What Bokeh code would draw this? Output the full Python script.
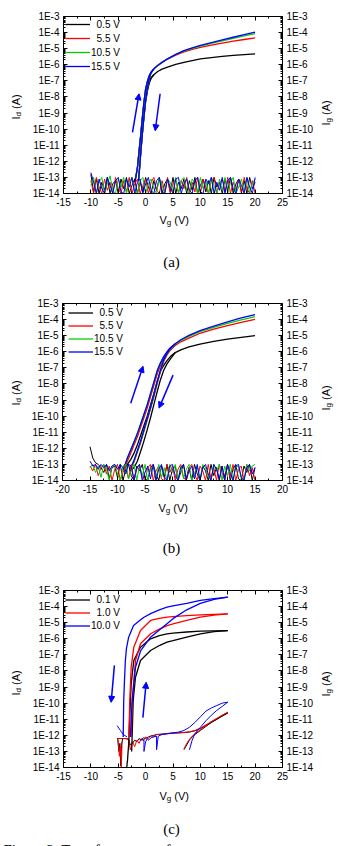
import math
from bokeh.plotting import figure
from bokeh.models import (Range1d, FixedTicker, CustomJSTickFormatter, LinearAxis, LogAxis,
                          Legend, LegendItem, Label, Arrow, NormalHead)
from bokeh.layouts import column
from bokeh.embed import file_html
from bokeh.resources import INLINE

SANS = "Liberation Sans"
SERIF = "Liberation Serif"
BLACK, RED, GREEN, BLUE = "#000000", "#ff0000", "#00d000", "#0000ff"
NB = "\u00a0"

# ---------------- DATA (currents given as log10(A)) ----------------
# Panel (a)
legend_a = ["\u20070.5 V", "\u20075.5 V", "10.5 V", "15.5 V"]
Vg_a_fwd = [-2.0, -1.8, -1.5, -1.2, -0.9, -0.6, -0.3, 0.0, 0.35, 0.7, 1.0, 1.5, 2.2, 3.0, 4.0, 5.5, 7.0, 8.5, 10.0, 12.0, 14.0, 16.0, 18.0, 20.0]
Id_a_05_fwd = [-13.3, -13.0, -12.4, -11.4, -10.4, -9.35, -8.4, -7.7, -7.25, -6.98, -6.8, -6.62, -6.42, -6.27, -6.15, -5.98, -5.85, -5.74, -5.64, -5.55, -5.48, -5.42, -5.37, -5.32]
Id_a_55_fwd = [-13.3, -13.0, -12.4, -11.4, -10.4, -9.3, -8.3, -7.5, -7.0, -6.65, -6.46, -6.25, -6.05, -5.85, -5.65, -5.4, -5.2, -5.05, -4.92, -4.78, -4.65, -4.53, -4.43, -4.33]
Id_a_105_fwd = [-13.3, -13.0, -12.4, -11.4, -10.4, -9.3, -8.3, -7.5, -7.0, -6.65, -6.46, -6.25, -6.05, -5.85, -5.63, -5.36, -5.14, -4.98, -4.84, -4.67, -4.51, -4.36, -4.21, -4.07]
Id_a_155_fwd = [-13.3, -13.0, -12.4, -11.4, -10.4, -9.3, -8.3, -7.5, -7.0, -6.65, -6.46, -6.25, -6.05, -5.85, -5.63, -5.35, -5.12, -4.95, -4.8, -4.62, -4.45, -4.29, -4.13, -3.97]
Vg_a_rev = [1.5, 1.0, 0.7, 0.35, 0.0, -0.3, -0.6, -0.9, -1.1, -1.3]
Id_a_05_rev = [-6.62, -6.85, -7.1, -7.6, -8.3, -9.25, -10.3, -11.5, -12.4, -13.2]
Id_a_55_rev = [-6.25, -6.5, -6.8, -7.4, -8.2, -9.2, -10.3, -11.5, -12.4, -13.2]
Id_a_105_rev = [-6.25, -6.5, -6.8, -7.4, -8.2, -9.2, -10.3, -11.5, -12.4, -13.2]
Id_a_155_rev = [-6.25, -6.5, -6.8, -7.4, -8.2, -9.2, -10.3, -11.5, -12.4, -13.2]
Vg_a_noise = [-10.0, -9.5, -9.0, -8.5, -8.0, -7.5, -7.0, -6.5, -6.0, -5.5,
              -5.0, -4.5, -4.0, -3.5, -3.0, -2.5, -2.0, -1.5, -1.0, -0.5,
              0.0, 0.5, 1.0, 1.5, 2.0, 2.5, 3.0, 3.5, 4.0, 4.5,
              5.0, 5.5, 6.0, 6.5, 7.0, 7.5, 8.0, 8.5, 9.0, 9.5,
              10.0, 10.5, 11.0, 11.5, 12.0, 12.5, 13.0, 13.5, 14.0, 14.5,
              15.0, 15.5, 16.0, 16.5, 17.0, 17.5, 18.0, 18.5, 19.0, 19.5,
              20.0]
Ig_a_05 = [-12.8, -13.9, -13.1, -14.0, -13.3, -13.8, -13.0, -14.0, -13.4, -13.2,
           -14.0, -13.1, -13.7, -13.0, -14.0, -13.5, -13.1, -14.0, -13.3, -13.9,
           -13.0, -13.6, -14.0, -13.2, -13.8, -13.0, -14.0, -13.4, -13.1, -13.9,
           -13.0, -14.0, -13.3, -13.7, -13.1, -14.0, -13.2, -13.8, -13.0, -14.0,
           -13.5, -13.1, -13.9, -13.2, -14.0, -13.0, -13.6, -13.3, -14.0, -13.1,
           -13.8, -13.0, -14.0, -13.4, -13.1, -13.9, -13.2, -14.0, -13.0, -13.7,
           -13.3]
Ig_a_55 = [-13.2, -14.0, -13.0, -13.6, -14.0, -13.1, -13.8, -13.3, -14.0, -13.0,
           -13.7, -14.0, -13.2, -13.9, -13.0, -14.0, -13.4, -13.1, -14.0, -13.5,
           -13.1, -14.0, -13.3, -13.0, -13.8, -14.0, -13.2, -13.9, -13.0, -14.0,
           -13.4, -13.1, -14.0, -13.2, -13.7, -13.0, -14.0, -13.3, -13.9, -13.0,
           -14.0, -13.1, -13.6, -14.0, -13.2, -13.0, -14.0, -13.4, -13.1, -13.9,
           -13.0, -14.0, -13.3, -13.8, -13.1, -14.0, -13.0, -13.7, -14.0, -13.2,
           -14.0]
Ig_a_105 = [-13.5, -13.0, -14.0, -13.3, -13.0, -14.0, -13.4, -12.9, -13.8, -14.0,
            -13.1, -13.6, -13.0, -14.0, -13.3, -13.0, -13.9, -14.0, -13.2, -13.0,
            -14.0, -13.4, -13.1, -13.7, -14.0, -13.0, -13.5, -14.0, -13.1, -13.3,
            -13.9, -13.0, -14.0, -13.2, -13.0, -13.8, -14.0, -13.1, -13.4, -14.0,
            -13.0, -13.7, -13.2, -14.0, -13.0, -13.5, -14.0, -13.1, -13.8, -13.0,
            -14.0, -13.3, -13.0, -14.0, -13.6, -13.1, -13.9, -13.0, -14.0, -13.4,
            -13.1]
Ig_a_155 = [-12.7, -13.3, -14.0, -13.1, -13.7, -14.0, -13.0, -13.5, -14.0, -13.2,
            -13.0, -13.9, -14.0, -13.1, -13.6, -13.0, -14.0, -13.3, -13.1, -14.0,
            -13.4, -13.0, -13.8, -14.0, -13.2, -13.0, -13.9, -14.0, -13.1, -13.6,
            -14.0, -13.1, -13.0, -14.0, -13.4, -13.1, -13.8, -14.0, -13.2, -13.0,
            -13.9, -14.0, -13.1, -13.4, -13.0, -14.0, -13.3, -13.8, -13.0, -14.0,
            -13.2, -13.0, -13.7, -14.0, -13.1, -13.5, -14.0, -13.0, -13.6, -14.0,
            -13.0]

# Panel (b)
legend_b = ["\u20070.5 V", "\u20075.5 V", "10.5 V", "15.5 V"]
Vg_b_fwd = [-9.0, -8.6, -8.2, -7.6, -7.0, -6.4, -5.8, -5.2, -4.6, -4.0, -3.4, -2.8, -2.2, -1.6, -1.0, -0.4, 0.5, 1.5, 3.0, 5.0, 7.5, 10.0, 12.5, 15.0]
Id_b_05_fwd = [-13.3, -13.2, -13.0, -12.7, -12.3, -11.8, -11.2, -10.6, -10.0, -9.3, -8.6, -7.85, -7.2, -6.85, -6.55, -6.3, -6.05, -5.88, -5.7, -5.52, -5.35, -5.21, -5.1, -5.0]
Id_b_55_fwd = [-13.3, -13.1, -12.8, -12.3, -11.8, -11.3, -10.7, -10.1, -9.5, -8.8, -8.1, -7.4, -6.85, -6.42, -6.1, -5.85, -5.6, -5.38, -5.15, -4.85, -4.6, -4.37, -4.17, -3.98]
Id_b_105_fwd = [-13.2, -13.0, -12.6, -12.1, -11.6, -11.1, -10.5, -9.9, -9.3, -8.6, -7.9, -7.2, -6.7, -6.32, -6.02, -5.78, -5.53, -5.3, -5.04, -4.75, -4.48, -4.24, -4.02, -3.82]
Id_b_155_fwd = [-13.2, -13.0, -12.6, -12.1, -11.6, -11.1, -10.5, -9.9, -9.3, -8.6, -7.9, -7.2, -6.7, -6.3, -6.0, -5.75, -5.5, -5.25, -4.98, -4.68, -4.4, -4.14, -3.9, -3.69]
Vg_b_rev = [0.5, -0.4, -1.0, -1.6, -2.2, -2.8, -3.4, -4.0, -4.6, -5.2, -5.8, -6.4, -7.0, -7.4, -7.8]
Id_b_05_rev = [-6.05, -6.45, -6.75, -7.15, -7.75, -8.5, -9.3, -10.1, -10.85, -11.55, -12.2, -12.8, -13.2, -13.3, -13.4]
Id_b_55_rev = [-5.6, -5.9, -6.2, -6.6, -7.25, -8.0, -8.8, -9.55, -10.25, -10.95, -11.65, -12.25, -12.85, -13.1, -13.3]
Id_b_105_rev = [-5.53, -5.82, -6.12, -6.52, -7.18, -7.93, -8.73, -9.48, -10.18, -10.88, -11.58, -12.18, -12.78, -13.08, -13.3]
Id_b_155_rev = [-5.5, -5.8, -6.1, -6.5, -7.15, -7.9, -8.7, -9.45, -10.15, -10.85, -11.55, -12.15, -12.75, -13.05, -13.3]
Vg_b_noise = [-15.0, -14.5, -14.0, -13.5, -13.0, -12.5, -12.0, -11.5, -11.0, -10.5,
              -10.0, -9.5, -9.0, -8.5, -8.0, -7.5, -7.0, -6.5, -6.0, -5.5,
              -5.0, -4.5, -4.0, -3.5, -3.0, -2.5, -2.0, -1.5, -1.0, -0.5,
              0.0, 0.5, 1.0, 1.5, 2.0, 2.5, 3.0, 3.5, 4.0, 4.5,
              5.0, 5.5, 6.0, 6.5, 7.0, 7.5, 8.0, 8.5, 9.0, 9.5,
              10.0, 10.5, 11.0, 11.5, 12.0, 12.5, 13.0, 13.5, 14.0, 14.5,
              15.0]
Ig_b_05 = [-11.9, -12.6, -12.9, -13.0, -13.2, -13.5, -13.0, -13.9, -13.2, -13.1,
           -13.8, -13.0, -14.0, -13.3, -13.0, -13.7, -14.0, -13.1, -13.4, -13.0,
           -13.9, -14.0, -13.2, -13.0, -13.6, -14.0, -13.1, -13.8, -13.0, -14.0,
           -13.3, -13.1, -14.0, -13.5, -13.0, -13.9, -13.2, -14.0, -13.0, -13.6,
           -14.0, -13.1, -13.4, -14.0, -13.0, -13.7, -13.2, -14.0, -13.1, -13.8,
           -13.0, -14.0, -13.3, -13.0, -13.9, -14.0, -13.1, -13.5, -13.0, -14.0,
           -13.2]
Ig_b_55 = [-13.1, -13.4, -13.0, -13.7, -13.2, -13.0, -13.6, -13.1, -14.0, -13.3,
           -13.0, -14.0, -13.5, -13.1, -13.9, -13.0, -14.0, -13.3, -13.0, -13.8,
           -14.0, -13.2, -13.0, -14.0, -13.4, -13.1, -13.9, -14.0, -13.0, -13.5,
           -13.1, -14.0, -13.3, -13.0, -13.8, -14.0, -13.2, -13.0, -13.6, -14.0,
           -13.1, -13.4, -14.0, -13.0, -13.9, -13.2, -14.0, -13.0, -13.5, -14.0,
           -13.1, -13.8, -13.0, -14.0, -13.3, -13.1, -14.0, -13.0, -13.7, -13.2,
           -14.0]
Ig_b_105 = [-13.2, -13.0, -13.5, -13.1, -13.8, -13.0, -13.3, -14.0, -13.1, -13.0,
            -13.6, -14.0, -13.2, -13.0, -13.9, -13.4, -13.0, -14.0, -13.1, -13.7,
            -13.0, -14.0, -13.3, -13.1, -14.0, -13.0, -13.8, -13.2, -14.0, -13.0,
            -13.5, -13.0, -14.0, -13.1, -13.9, -13.3, -13.0, -14.0, -13.6, -13.1,
            -14.0, -13.0, -13.2, -13.8, -14.0, -13.0, -13.4, -13.0, -14.0, -13.1,
            -13.7, -13.0, -14.0, -13.2, -13.1, -13.9, -14.0, -13.0, -13.4, -13.1,
            -13.0]
Ig_b_155 = [-12.8, -13.1, -13.0, -13.3, -13.0, -13.2, -13.0, -13.4, -13.1, -13.0,
            -13.3, -13.0, -13.2, -13.6, -13.0, -13.1, -14.0, -13.2, -13.0, -14.0,
            -13.5, -13.1, -13.9, -13.0, -14.0, -13.3, -13.0, -13.8, -14.0, -13.1,
            -13.0, -13.7, -14.0, -13.2, -13.0, -14.0, -13.4, -13.1, -13.9, -13.0,
            -14.0, -13.2, -13.0, -13.6, -14.0, -13.0, -13.3, -13.9, -13.1, -14.0,
            -13.0, -13.5, -14.0, -13.1, -13.0, -13.8, -14.0, -13.2, -13.0, -13.6,
            -13.2]

# Panel (c)
legend_c = ["\u20070.1 V", "\u20071.0 V", "10.0 V"]
Vg_c_01_a = [15.0, 12.5, 10.0, 7.5, 5.0, 3.9, 2.5, 0.9, -0.94, -2.16, -2.64, -2.9, -3.07, -3.3, -3.45]
Id_c_01_a = [-5.49, -5.51, -5.53, -5.58, -5.65, -5.69, -5.8, -6.0, -6.52, -7.35, -8.8, -10.87, -12.4, -13.5, -14.0]
Vg_c_01_b = [15.0, 12.5, 10.0, 7.5, 5.0, 3.9, 2.5, 0.9, -0.94, -1.85, -2.27, -2.45, -2.55]
Id_c_01_b = [-5.49, -5.55, -5.69, -5.9, -6.12, -6.21, -6.42, -6.73, -7.35, -8.39, -9.84, -11.9, -13.0]
Vg_c_1_a = [15.0, 12.5, 10.0, 7.5, 5.0, 3.9, 2.5, 0.9, -0.94, -2.16, -2.64, -2.9, -3.07]
Id_c_1_a = [-4.45, -4.48, -4.52, -4.56, -4.62, -4.66, -4.73, -4.86, -5.49, -6.52, -7.77, -9.84, -12.1]
Vg_c_1_b = [15.0, 12.5, 10.0, 7.5, 5.0, 3.9, 2.5, 0.9, -0.94, -1.85, -2.45, -2.64]
Id_c_1_b = [-4.45, -4.53, -4.66, -4.85, -5.08, -5.18, -5.4, -5.69, -6.31, -7.35, -9.84, -12.1]
Vg_c_10_a = [15.0, 12.5, 10.0, 7.5, 5.0, 3.9, 2.5, 1.0, -0.3, -1.2, -2.2, -3.1, -3.5, -3.7, -3.85, -4.0, -4.1]
Id_c_10_a = [-3.41, -3.5, -3.62, -3.8, -3.96, -4.04, -4.2, -4.42, -4.66, -4.9, -5.18, -5.9, -6.6, -7.35, -8.5, -9.84, -12.1]
Vg_c_10_b = [15.0, 12.5, 10.0, 7.5, 5.0, 3.9, 2.5, 0.9, -0.9, -1.85, -2.45, -2.65, -2.76]
Id_c_10_b = [-3.41, -3.55, -3.8, -4.2, -4.75, -5.07, -5.45, -5.9, -6.73, -7.77, -9.84, -11.0, -12.1]
Vg_c_low = [-5.2, -4.5, -3.8, -3.1, -2.8, -2.4, -2.0, -1.6, -1.2, -0.8, -0.4, 0.0, 0.5, 1.0, 1.5,
            2.0, 3.0, 4.0, 5.0, 6.0, 7.0, 8.0, 9.0, 10.0, 11.0, 12.0, 13.0, 14.0, 15.0]
Ig_c_01_low = [-12.2, -12.2, -12.2, -12.25, -12.6, -12.5, -12.3, -12.4, -12.2, -12.3, -12.15, -12.2, -12.1, -12.05, -12.0,
               -11.95, -11.92, -11.9, -11.87, -11.85, -11.83, -11.8, -11.72, -11.58, -11.4, -11.2, -11.0, -10.8, -10.62]
Ig_c_1_low = [-12.2, -12.2, -12.2, -12.2, -12.9, -12.4, -12.7, -12.3, -12.5, -12.2, -12.35, -12.1, -12.2, -12.0, -12.1,
              -11.95, -11.95, -11.88, -11.85, -11.85, -11.82, -11.78, -11.7, -11.55, -11.35, -11.15, -10.95, -10.75, -10.58]
Vg_c_loop = [7.0, 7.5, 8.0, 8.5, 9.0, 10.0, 11.0, 12.0, 13.0, 14.0, 15.0]
Ig_c_01_loop = [-12.9, -12.6, -12.3, -12.1, -11.95, -11.7, -11.45, -11.2, -11.0, -10.8, -10.6]
Ig_c_1_loop = [-12.85, -12.5, -12.25, -12.05, -11.9, -11.65, -11.4, -11.15, -10.95, -10.75, -10.56]
Vg_c_10_low = [-1.0, -0.5, -0.3, -0.3, 0.0, 0.3, 0.5, 1.0, 1.5, 2.0, 2.0, 2.3, 3.0, 4.0, 5.0,
               6.0, 7.0, 8.0, 9.0, 10.0, 11.0, 12.0, 13.0, 14.0, 15.0]
Ig_c_10_low = [-12.3, -12.25, -12.3, -13.0, -12.4, -12.2, -12.3, -12.15, -12.1, -12.05, -12.9, -12.05, -11.95, -11.9, -11.85,
               -11.8, -11.7, -11.5, -11.2, -10.85, -10.5, -10.3, -10.15, -10.0, -9.94]
Vg_c_10_loop = [8.0, 8.5, 9.0, 10.0, 11.0, 12.0, 13.0, 14.0, 15.0]
Ig_c_10_loop = [-12.9, -12.3, -11.9, -11.5, -11.1, -10.75, -10.45, -10.2, -9.94]
Vg_c_10_diag = [-5.2, -4.6, -4.1, -3.4]
Ig_c_10_diag = [-11.4, -11.7, -11.95, -12.1]
Vg_c_01_spk = [-5.1, -4.9, -4.7, -4.55, -4.4, -4.2]
Ig_c_01_spk = [-12.2, -13.0, -12.5, -13.9, -12.6, -12.2]
Vg_c_1_spk = [-5.0, -4.8, -4.6, -4.45, -4.3]
Ig_c_1_spk = [-12.3, -13.3, -12.7, -14.0, -12.4]

# sweep-direction arrows: (x_start, log_y_start, x_end, log_y_end)
arrows_a = [(-2.4, -10.2, -1.2, -7.8), (2.65, -7.8, 1.75, -10.1)]
arrows_b = [(-7.6, -9.2, -5.35, -6.9), (0.1, -7.45, -2.45, -9.5)]
arrows_c = [(-5.7, -7.65, -6.3, -9.95), (-0.5, -10.9, 0.1, -8.7)]

caption_bottom = "Figure 2. Transfer curves of"

# ---------------- helpers ----------------
def E(v):
    return [10.0 ** x for x in v]

CW = {"I": 0.278, "d": 0.556, "g": 0.556, "V": 0.667, " ": 0.278, NB: 0.278, "(": 0.333, ")": 0.333, "A": 0.667}

def tw(s, size):
    return sum(CW[c] for c in s) * size


def make_panel(g, xticks, xminor):
    # plot box at pixels L..R, T..B ; the frame spans the whole canvas and the
    # axes are pinned to the box edges with fixed_location
    x0, x1 = g["xr"]
    ppu = (g["R"] - g["L"]) / (x1 - x0)
    ppd = (g["B"] - g["T"]) / 11.0
    xs = x0 - g["L"] / ppu
    xe = x1 + (340 - g["R"]) / ppu
    ys = 10.0 ** (-14 - (g["fig_h"] - g["B"]) / ppd)
    ye = 10.0 ** (-3 + g["T"] / ppd)
    p = figure(width=340, height=g["fig_h"], x_range=Range1d(xs, xe), y_range=Range1d(ys, ye),
               y_axis_type="log", output_backend="svg", toolbar_location=None,
               min_border=0, min_border_top=0, min_border_bottom=0,
               min_border_left=0, min_border_right=0)
    p.grid.grid_line_color = None
    p.outline_line_color = None
    p.background_fill_color = "white"
    p.border_fill_color = "white"
    yt = FixedTicker(ticks=[10.0 ** (-k) for k in range(3, 15)],
                     minor_ticks=[m * 10.0 ** (-k) for k in range(4, 15) for m in range(2, 10)])
    xt = FixedTicker(ticks=xticks, minor_ticks=xminor)
    yfmt = CustomJSTickFormatter(code="return '1E' + Math.round(Math.log10(tick)).toString();")
    xfmt = CustomJSTickFormatter(code="return Math.round(tick).toString();")
    blank = CustomJSTickFormatter(code="return '';")
    p.yaxis.ticker = yt
    p.yaxis.formatter = yfmt
    p.yaxis.fixed_location = x0
    p.yaxis.bounds = (1e-14, 1e-3)
    p.xaxis.ticker = xt
    p.xaxis.formatter = xfmt
    p.xaxis.fixed_location = 1e-14
    p.xaxis.bounds = (x0, x1)
    p.add_layout(LinearAxis(ticker=xt, formatter=blank, fixed_location=1e-3, bounds=(x0, x1)), "above")
    p.add_layout(LogAxis(ticker=yt, formatter=yfmt, fixed_location=x1, bounds=(1e-14, 1e-3)), "right")
    for ax in p.axis:
        ax.major_tick_in = 4
        ax.major_tick_out = 0
        ax.minor_tick_in = 2
        ax.minor_tick_out = 0
        ax.axis_line_color = "black"
        ax.major_tick_line_color = "black"
        ax.minor_tick_line_color = "black"
        ax.major_label_text_font = SANS
        ax.major_label_text_font_size = "10px"
        ax.major_label_text_color = "black"
        ax.major_label_standoff = 4
    return p


def to_data(g, px, py):
    x0, x1 = g["xr"]
    x = x0 + (px - g["L"]) / (g["R"] - g["L"]) * (x1 - x0)
    lg = -3 - (py - g["T"]) / (g["B"] - g["T"]) * 11
    return x, 10.0 ** lg


def text(p, g, px, py, s, size, font=SANS, angle=0.0, align="left", baseline="middle"):
    x, y = to_data(g, px, py)
    p.add_layout(Label(x=x, y=y, text=s, text_font=font, text_font_size=f"{size}px", text_color="black",
                       angle=angle, text_align=align, text_baseline=baseline))


def sub_label(p, g, px, py, main, sub, rest, rotated):
    if not rotated:
        text(p, g, px, py, main, 11)
        text(p, g, px + tw(main, 11), py + 3, sub, 8)
        text(p, g, px + tw(main, 11) + tw(sub, 8), py, rest, 11)
    else:
        a = math.pi / 2
        text(p, g, px, py, main, 11, angle=a)
        text(p, g, px + 3, py - tw(main, 11), sub, 8, angle=a)
        text(p, g, px, py - tw(main, 11) - tw(sub, 8), rest, 11, angle=a)


def legend(p, g, items, glyph_left, top, row):
    n = len(items)
    h = n * row + 2
    lg = Legend(items=[LegendItem(label=l, renderers=[r]) for l, r in items],
                location=(glyph_left - 1, g["fig_h"] - top - h),
                glyph_width=25, glyph_height=row, label_height=row, label_standoff=1, spacing=0,
                padding=1, margin=0, border_line_alpha=0, background_fill_alpha=0,
                label_text_font=SANS, label_text_font_size="10px", label_text_color="black")
    p.add_layout(lg)


def arrows(p, lst):
    for xs, ys, xe, ye in lst:
        p.add_layout(Arrow(x_start=xs, y_start=10.0 ** ys, x_end=xe, y_end=10.0 ** ye,
                           line_color=BLUE, line_width=1.5,
                           end=NormalHead(size=6, fill_color=BLUE, line_color=BLUE, line_width=1)))


def decorate(p, g, xl, idl, igl, cap, cap_y):
    sub_label(p, g, xl[0], xl[1], "V", "g", NB + "(V)", False)
    sub_label(p, g, idl[0], idl[1], "I", "d", NB + "(A)", True)
    sub_label(p, g, igl[0], igl[1], "I", "g", NB + "(A)", True)
    text(p, g, 171, cap_y, cap, 15, font=SERIF, align="center")


LW = 1.3
COLS4 = [BLACK, RED, GREEN, BLUE]
XT15 = [-15, -10, -5, 0, 5, 10, 15, 20, 25]
XM15 = [-12.5, -7.5, -2.5, 2.5, 7.5, 12.5, 17.5, 22.5]
XT20 = [-20, -15, -10, -5, 0, 5, 10, 15, 20]
XM20 = [-17.5, -12.5, -7.5, -2.5, 2.5, 7.5, 12.5, 17.5]

# ---------------- panel (a) ----------------
GA = dict(xr=(-15, 25), fig_h=275, L=63, R=282, T=16, B=193)
pa = make_panel(GA, XT15, XM15)
rs = []
for c, f, r in zip(COLS4, [Id_a_05_fwd, Id_a_55_fwd, Id_a_105_fwd, Id_a_155_fwd],
                   [Id_a_05_rev, Id_a_55_rev, Id_a_105_rev, Id_a_155_rev]):
    rs.append(pa.line(Vg_a_fwd, E(f), line_color=c, line_width=LW))
    pa.line(Vg_a_rev, E(r), line_color=c, line_width=LW)
for c, n in zip(COLS4, [Ig_a_05, Ig_a_55, Ig_a_105, Ig_a_155]):
    pa.line(Vg_a_noise, E(n), line_color=c, line_width=1)
legend(pa, GA, list(zip(legend_a, rs)), 65, 16, 14)
arrows(pa, arrows_a)
decorate(pa, GA, (159, 219), (15, 119), (325, 125), "(a)", 261)

# ---------------- panel (b) ----------------
GB = dict(xr=(-20, 20), fig_h=285, L=62, R=282, T=28, B=205)
pb = make_panel(GB, XT20, XM20)
rs = []
for c, f, r in zip(COLS4, [Id_b_05_fwd, Id_b_55_fwd, Id_b_105_fwd, Id_b_155_fwd],
                   [Id_b_05_rev, Id_b_55_rev, Id_b_105_rev, Id_b_155_rev]):
    rs.append(pb.line(Vg_b_fwd, E(f), line_color=c, line_width=LW))
    pb.line(Vg_b_rev, E(r), line_color=c, line_width=LW)
for c, n in zip(COLS4, [Ig_b_05, Ig_b_55, Ig_b_105, Ig_b_155]):
    pb.line(Vg_b_noise, E(n), line_color=c, line_width=1)
legend(pb, GB, list(zip(legend_b, rs)), 68, 30, 13)
arrows(pb, arrows_b)
decorate(pb, GB, (158, 232), (15, 130), (325, 135), "(b)", 272)

# ---------------- panel (c) ----------------
GC = dict(xr=(-15, 25), fig_h=286, L=63, R=282, T=30, B=207)
pc = make_panel(GC, XT15, XM15)
pc.line(Vg_c_low, E(Ig_c_01_low), line_color=BLACK, line_width=1)
pc.line(Vg_c_low, E(Ig_c_1_low), line_color=RED, line_width=1)
pc.line(Vg_c_loop, E(Ig_c_01_loop), line_color=BLACK, line_width=1)
pc.line(Vg_c_loop, E(Ig_c_1_loop), line_color=RED, line_width=1)
pc.line(Vg_c_01_spk, E(Ig_c_01_spk), line_color=BLACK, line_width=1)
pc.line(Vg_c_1_spk, E(Ig_c_1_spk), line_color=RED, line_width=1)
pc.line(Vg_c_10_low, E(Ig_c_10_low), line_color=BLUE, line_width=1)
pc.line(Vg_c_10_loop, E(Ig_c_10_loop), line_color=BLUE, line_width=1)
pc.line(Vg_c_10_diag, E(Ig_c_10_diag), line_color=BLUE, line_width=1)
rk = pc.line(Vg_c_01_a, E(Id_c_01_a), line_color=BLACK, line_width=LW)
pc.line(Vg_c_01_b, E(Id_c_01_b), line_color=BLACK, line_width=LW)
rr = pc.line(Vg_c_1_a, E(Id_c_1_a), line_color=RED, line_width=LW)
pc.line(Vg_c_1_b, E(Id_c_1_b), line_color=RED, line_width=LW)
rb = pc.line(Vg_c_10_a, E(Id_c_10_a), line_color=BLUE, line_width=LW)
pc.line(Vg_c_10_b, E(Id_c_10_b), line_color=BLUE, line_width=LW)
legend(pc, GC, list(zip(legend_c, [rk, rr, rb])), 65, 32, 13)
arrows(pc, arrows_c)
decorate(pc, GC, (159, 235), (15, 135), (325, 136), "(c)", 268)
text(pc, GC, 3, 281, caption_bottom, 15, font=SERIF, align="left", baseline="top")

layout = column(pa, pb, pc, spacing=0)
open("out.html", "w").write(file_html(layout, INLINE))
